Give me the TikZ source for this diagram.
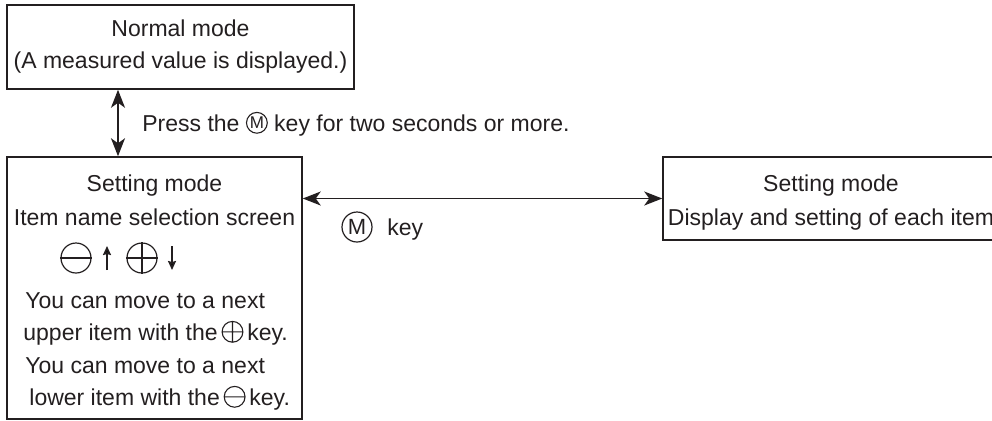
\documentclass[tikz,border=0pt]{standalone}
\usepackage{fontspec}
\setmainfont{Liberation Sans}
\usetikzlibrary{arrows.meta}
\definecolor{ink}{HTML}{231F20}
\newcommand{\kM}{\tikz[baseline={(0pt,-4.1pt)}]{\draw[line width=0.55pt,draw=ink] (0pt,0pt) circle (5.2pt); \node[anchor=center,inner sep=0pt,font=\fontsize{8.5}{8.5}\selectfont] (kmi) at (0pt,0pt) {M};}}
\newcommand{\kPlus}{\tikz[baseline={(0pt,-4.1pt)}]{\draw[line width=0.55pt,draw=ink] (0pt,0pt) circle (5.2pt) (-5.2pt,0pt) -- (5.2pt,0pt) (0pt,-5.2pt) -- (0pt,5.2pt);}}
\newcommand{\kMinus}{\tikz[baseline={(0pt,-4.1pt)}]{\draw[line width=0.55pt,draw=ink] (0pt,0pt) circle (5.2pt) (-5.2pt,0pt) -- (5.2pt,0pt);}}
\tikzset{
  box/.style={draw=ink, line width=0.75pt, inner sep=0pt},
  keyc/.style={circle, draw=ink, line width=0.6pt, minimum size=15pt, inner sep=0pt},
  keyline/.style={draw=ink, line width=0.6pt},
  dblarrow/.style={draw=ink, line width=0.8pt, {Stealth[length=9pt,width=7pt,inset=2.5pt]}-{Stealth[length=9pt,width=7pt,inset=2.5pt]}},
  smallarrow/.style={draw=ink, line width=0.9pt, -{Stealth[length=4.5pt,width=4pt,inset=0.5pt]}}
}
\begin{document}
\begin{tikzpicture}[x=0.5pt,y=-0.5pt, font=\fontsize{11.5}{16}\selectfont, every node/.style={text=ink}]
\useasboundingbox (0,0) rectangle (992,420);
\clip (0,0) rectangle (992,420);
% boxes
\node[box, minimum width=173.5pt, minimum height=42pt, align=center] (normal) at (180.5,47) {Normal mode\\(A measured value is displayed.)};
\node[box, minimum width=147.5pt, minimum height=131pt] (selL) at (154.5,288) {};
\node[box, minimum width=180pt, minimum height=41.5pt] (selR) at (843,198.5) {};
% connectors
\coordinate (vx) at (118,0);
\draw[dblarrow] (normal.south -| vx) -- (selL.north -| vx);
\draw[dblarrow] (selL.east |- selR.west) -- (selR.west);
% labels
\node[anchor=base west, inner sep=0pt] (press) at (142,131) {Press the \kM{} key for two seconds or more.};
\node[keyc, font=\fontsize{11}{11}\selectfont] (mkey) at (357,227) {M};
\node[anchor=base west, inner sep=0pt] (keylbl) at (387,235) {key};
% left setting box contents
\node[anchor=base] (sl1) at (154.5,191) {Setting mode};
\node[anchor=base] (sl2) at (154.5,225) {Item name selection screen};
\node[keyc] (kminus) at (76,258) {};
\draw[keyline] (kminus.west) -- (kminus.east);
\draw[smallarrow] (107,270) -- (107,246);
\node[keyc] (kplus) at (142,258) {};
\draw[keyline] (kplus.west) -- (kplus.east) (kplus.north) -- (kplus.south);
\draw[smallarrow] (172,246) -- (172,270);
\node[anchor=base west, inner sep=0pt] (p1) at (25,308) {You can move to a next};
\node[anchor=base west, inner sep=0pt] (p2) at (23,340) {upper item with the\,\kPlus\,key.};
\node[anchor=base west, inner sep=0pt] (p3) at (25,373) {You can move to a next};
\node[anchor=base west, inner sep=0pt] (p4) at (29,405) {lower item with the\,\kMinus\,key.};
% right setting box contents
\node[anchor=base] (sr1) at (831,191) {Setting mode};
\node[anchor=base] (sr2) at (831,225) {Display and setting of each item};
\end{tikzpicture}
\end{document}
